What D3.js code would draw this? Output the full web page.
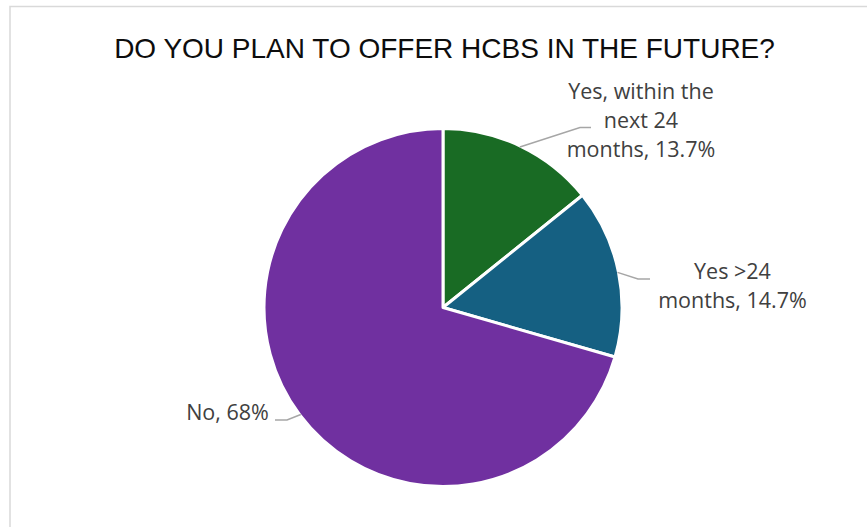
<!DOCTYPE html>
<html>
<head>
<meta charset="utf-8">
<script src="https://cdn.jsdelivr.net/npm/d3@7"></script>
<style>
  html, body { margin: 0; padding: 0; background: #ffffff; }
  svg { display: block; }
</style>
</head>
<body>
<svg id="chart" width="867" height="527"></svg>
<script>
// Survey answers and their shares (percent)
const categories = ["Yes, within the next 24 months", "Yes >24 months", "No"];
const values = [13.7, 14.7, 68];
const labelLines = [
  ["Yes, within the", "next 24", "months, 13.7%"],
  ["Yes >24", "months, 14.7%"],
  ["No, 68%"]
];
const colors = ["#196b24", "#156082", "#7030a0"];
const title = "DO YOU PLAN TO OFFER HCBS IN THE FUTURE?";

// Layout
const W = 867, H = 527;
const cx = 443, cy = 307.5, R = 179;
const lineH = 29;
// Label placement: text centre x, first baseline y, leader elbow and leader end
const labelLayout = [
  { tx: 641, ty: 99, ex: 580, ey: 127.5, lx: 591 },
  { tx: 732.5, ty: 279, ex: 638, ey: 279, lx: 650 },
  { tx: 227.5, ty: 420, ex: 287, ey: 420, lx: 275 }
];

const svg = d3.select("#chart");

// Chart area border
svg.append("rect")
  .attr("x", 10).attr("y", 6.5)
  .attr("width", 900).attr("height", 600)
  .attr("fill", "#ffffff")
  .attr("stroke", "#d9d9d9")
  .attr("stroke-width", 1.5);

// Title
svg.append("text")
  .attr("x", 444.5).attr("y", 57.5)
  .attr("text-anchor", "middle")
  .attr("font-family", "'Liberation Sans', Arial, sans-serif")
  .attr("font-size", 28)
  .attr("fill", "#0d0d0d")
  .text(title);

const data = categories.map((c, i) => ({ category: c, value: values[i], lines: labelLines[i], color: colors[i], layout: labelLayout[i] }));

const pie = d3.pie().value(d => d.value).sort(null);
const arcs = pie(data);
const arc = d3.arc().innerRadius(0).outerRadius(R);

const g = svg.append("g").attr("transform", `translate(${cx},${cy})`);

g.selectAll("path.slice")
  .data(arcs)
  .enter().append("path")
  .attr("class", "slice")
  .attr("d", arc)
  .attr("fill", d => d.data.color)
  .attr("stroke", "#ffffff")
  .attr("stroke-width", 3)
  .attr("stroke-linejoin", "round");

// Leader lines from the middle of each slice's rim to its label
svg.selectAll("polyline.leader")
  .data(arcs)
  .enter().append("polyline")
  .attr("class", "leader")
  .attr("points", d => {
    const a = (d.startAngle + d.endAngle) / 2;
    const sx = cx + Math.sin(a) * (R - 1);
    const sy = cy - Math.cos(a) * (R - 1);
    const L = d.data.layout;
    return [[sx, sy], [L.ex, L.ey], [L.lx, L.ey]].map(p => p.join(",")).join(" ");
  })
  .attr("fill", "none")
  .attr("stroke", "#a6a6a6")
  .attr("stroke-width", 1.5);

// Data labels
const labels = svg.selectAll("text.label")
  .data(arcs)
  .enter().append("text")
  .attr("class", "label")
  .attr("text-anchor", "middle")
  .attr("font-family", "'Open Sans', sans-serif")
  .attr("font-size", 21.5)
  .attr("fill", "#404040");

labels.each(function (d) {
  const L = d.data.layout;
  d3.select(this).selectAll("tspan")
    .data(d.data.lines)
    .enter().append("tspan")
    .attr("x", L.tx)
    .attr("y", (t, i) => L.ty + i * lineH)
    .text(t => t);
});
</script>
</body>
</html>
